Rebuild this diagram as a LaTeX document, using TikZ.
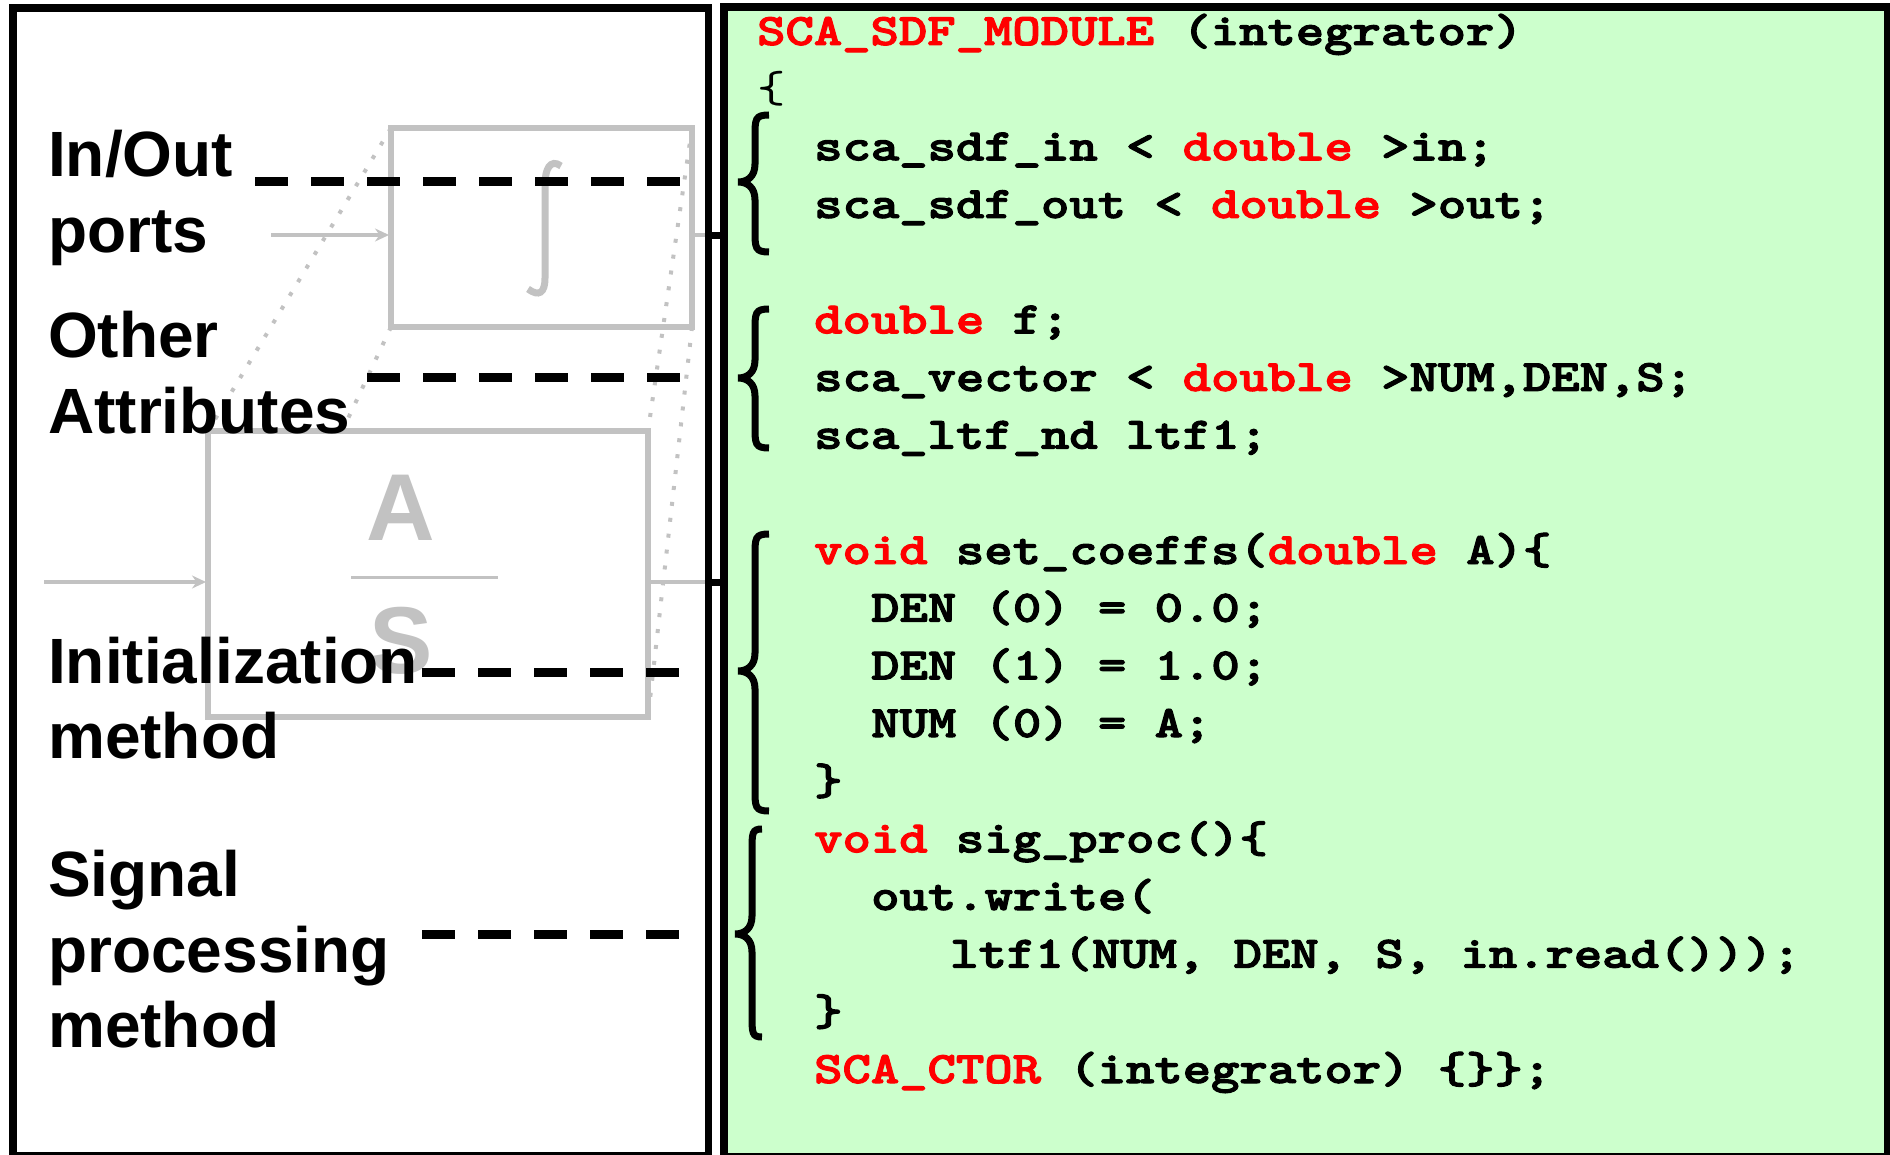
\documentclass[tikz,border=0pt]{standalone}
\usepackage{fontspec}
\usepackage{graphicx}
\setmainfont{Liberation Sans}
\newfontfamily\codefont{lmmonolt10-bold.otf}[FakeBold=2.2]
\newfontfamily\codethin{lmmono10-regular.otf}
\usetikzlibrary{arrows.meta}
\definecolor{codegreen}{HTML}{CCFFCC}
\definecolor{kwred}{HTML}{FF0000}
\definecolor{ghost}{gray}{0.76}
\newcommand{\kw}[1]{\textcolor{kwred}{#1}}
\newcommand{\cl}[1]{\scalebox{1.2}[1]{#1}}
\newcommand{\bracepath}[6]{%
  \draw[bracestyle] (#1,#3) .. controls (#2,#3) and (#2,#3+4) .. (#2,#3+22)
    -- (#2,#4-18) .. controls (#2,#4-5) and (#2-8,#4) .. (#2-17,#4)
    .. controls (#2-8,#4) and (#2,#4+5) .. (#2,#4+18)
    -- (#2,#5-22) .. controls (#2,#5-4) and (#2,#5) .. (#1,#5);%
  \coordinate (#6) at (#2-17,#4);}
\begin{document}
\begin{tikzpicture}[x=1pt,y=-1pt,
  lbl/.style={anchor=base west, inner sep=0pt, font=\fontsize{64}{76}\selectfont\bfseries},
  code/.style={anchor=base west, inner sep=0pt, font=\fontsize{45}{57}\selectfont\codefont},
  leader/.style={line width=9pt, dash pattern=on 33pt off 23pt},
  ghostbox/.style={draw=ghost, line width=6pt},
  ghostline/.style={draw=ghost, line width=4pt},
  ghosttip/.style={-{Stealth[length=14pt,width=13pt]}},
  zoomline/.style={draw=ghost, line width=4pt, dash pattern=on 4pt off 12pt},
  ghosttext/.style={anchor=base, inner sep=0pt, text=ghost, font=\fontsize{95}{100}\selectfont\bfseries},
  bracestyle/.style={line width=7pt},
  frame/.style={line width=7.5pt}]
\useasboundingbox (0,0) rectangle (1890,1155);

% ---------- faint background diagram ----------
\coordinate (iTL) at (391,128); \coordinate (iTR) at (692,128);
\coordinate (iBL) at (391,327); \coordinate (iBR) at (692,327);
\coordinate (aTL) at (208,431); \coordinate (aTR) at (648,431);
\coordinate (aBL) at (208,717); \coordinate (aBR) at (648,717);
\draw[zoomline] (iTL) -- (aTL);
\draw[zoomline] (iTR) -- (aTR);
\draw[zoomline] (iBL) -- (aBL);
\draw[zoomline] (iBR) -- (aBR);
\draw[ghostbox] (iTL) rectangle (iBR);
\draw[ghostline, line width=7pt] (561,166) .. controls (550,158) and (545,170) .. (545,184)
   -- (545,278) .. controls (545,293) and (539,297) .. (528,289);
\coordinate (iin) at (271,235); \coordinate (iinend) at (389,235);
\coordinate (iout) at (692,235); \coordinate (ioutend) at (706,235);
\draw[ghostline, ghosttip] (iin) -- (iinend);
\draw[ghostline] (iout) -- (ioutend);
\draw[ghostbox, fill=white] (aTL) rectangle (aBR);
\node[ghosttext] (ghA) at (401,540) {A};
\node[ghosttext] (ghS) at (401,673) {S};
\coordinate (frl) at (351,577); \coordinate (frr) at (498,577);
\draw[ghostline, line width=3pt] (frl) -- (frr);
\coordinate (ain) at (44,582); \coordinate (ainend) at (206,582);
\coordinate (aout) at (648,582); \coordinate (aoutend) at (706,582);
\draw[ghostline, ghosttip] (ain) -- (ainend);
\draw[ghostline] (aout) -- (aoutend);

% ---------- labels ----------
\node[lbl] (l1) at (48,177) {In/Out};
\node[lbl] (l2) at (48,253) {ports};
\node[lbl] (l3) at (48,358) {Other};
\node[lbl] (l4) at (48,433) {Attributes};
\node[lbl] (l5) at (48,683) {Initialization};
\node[lbl] (l6) at (48,758) {method};
\node[lbl] (l7) at (48,896) {Signal};
\node[lbl] (l8) at (48,972) {processing};
\node[lbl] (l9) at (48,1047) {method};

% ---------- dashed leaders ----------
\coordinate (d1s) at (255,181.5); \coordinate (d1e) at (680,181.5);
\coordinate (d2s) at (367,377.5); \coordinate (d2e) at (680,377.5);
\coordinate (d3s) at (422,672);   \coordinate (d3e) at (680,672);
\coordinate (d4s) at (422,934);   \coordinate (d4e) at (680,934);
\draw[leader] (d1s) -- (d1e);
\draw[leader] (d2s) -- (d2e);
\draw[leader] (d3s) -- (d3e);
\draw[leader] (d4s) -- (d4e);

% ---------- frames ----------
\draw[frame] (13,8) rectangle (708.5,1156);
\draw[line width=8pt, fill=codegreen] (724,7.5) rectangle (1888,1157);
\fill (712,232) rectangle (720,239);
\fill (712,579) rectangle (720,586);

% ---------- braces ----------
\bracepath{769}{755}{115}{182}{252}{b1}
\bracepath{769}{755}{309}{378}{448}{b2}
\bracepath{769}{755}{534}{671}{811}{b3}
\bracepath{762}{752}{829}{934}{1037}{b4}

% ---------- code ----------
\node[code] (c0)  at (757,45)   {\cl{\kw{SCA\_SDF\_MODULE} (integrator)}};
\node[code] (c1)  at (757,102.7) {\cl{\codethin\{}};
\node[code] (c2)  at (814,160.3) {\cl{sca\_sdf\_in < \kw{double} >in;}};
\node[code] (c3)  at (814,218)  {\cl{sca\_sdf\_out < \kw{double} >out;}};
\node[code] (c5)  at (814,333.4) {\cl{\kw{double} f;}};
\node[code] (c6)  at (814,391)  {\cl{sca\_vector < \kw{double} >NUM,DEN,S;}};
\node[code] (c7)  at (814,448.7) {\cl{sca\_ltf\_nd ltf1;}};
\node[code] (c9)  at (814,564)  {\cl{\kw{void} set\_coeffs(\kw{double} A)\{}};
\node[code] (c10) at (871,621.7) {\cl{DEN (0) = 0.0;}};
\node[code] (c11) at (871,679.4) {\cl{DEN (1) = 1.0;}};
\node[code] (c12) at (871,737)  {\cl{NUM (0) = A;}};
\node[code] (c13) at (814,794.7) {\cl{\}}};
\node[code] (c14) at (814,852.4) {\cl{\kw{void} sig\_proc()\{}};
\node[code] (c15) at (871,910)  {\cl{out.write(}};
\node[code] (c16) at (950,967.7) {\cl{ltf1(NUM, DEN, S, in.read()));}};
\node[code] (c17) at (814,1025.4) {\cl{\}}};
\node[code] (c18) at (814,1083) {\cl{\kw{SCA\_CTOR} (integrator) \{\}\};}};
\end{tikzpicture}
\end{document}
